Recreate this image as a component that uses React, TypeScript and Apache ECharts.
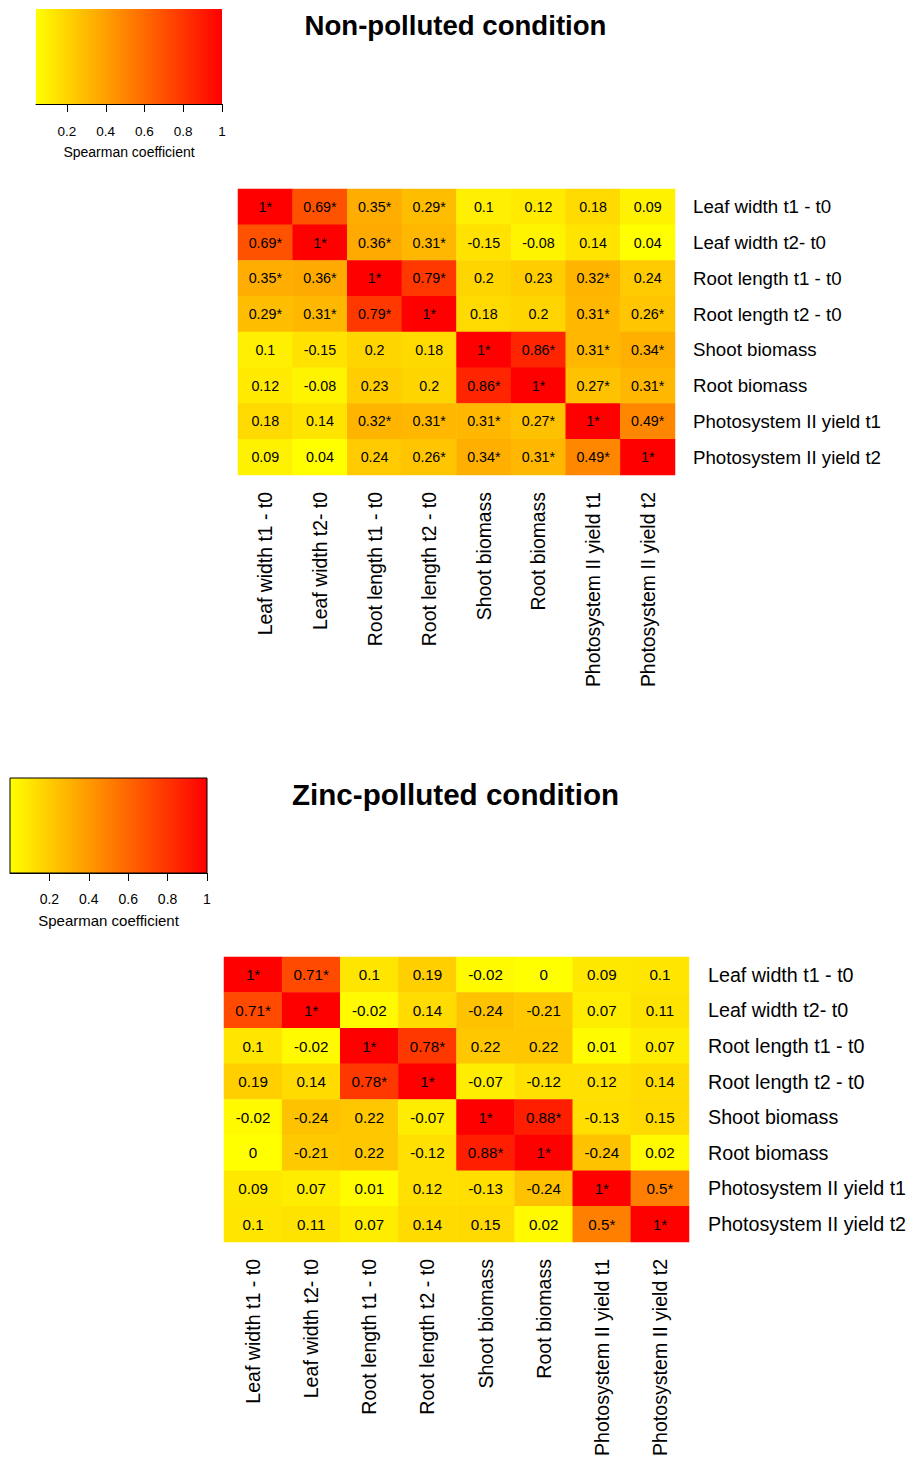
import React, { useEffect, useRef } from "react";
import * as echarts from "echarts";

const variables = [
  "Leaf width t1 - t0",
  "Leaf width t2- t0",
  "Root length t1 - t0",
  "Root length t2 - t0",
  "Shoot biomass",
  "Root biomass",
  "Photosystem II yield t1",
  "Photosystem II yield t2",
];

const nonPollutedValues = [
  [1, 0.69, 0.35, 0.29, 0.1, 0.12, 0.18, 0.09],
  [0.69, 1, 0.36, 0.31, -0.15, -0.08, 0.14, 0.04],
  [0.35, 0.36, 1, 0.79, 0.2, 0.23, 0.32, 0.24],
  [0.29, 0.31, 0.79, 1, 0.18, 0.2, 0.31, 0.26],
  [0.1, -0.15, 0.2, 0.18, 1, 0.86, 0.31, 0.34],
  [0.12, -0.08, 0.23, 0.2, 0.86, 1, 0.27, 0.31],
  [0.18, 0.14, 0.32, 0.31, 0.31, 0.27, 1, 0.49],
  [0.09, 0.04, 0.24, 0.26, 0.34, 0.31, 0.49, 1],
];

const nonPollutedSignificant = [
  [1, 1, 1, 1, 0, 0, 0, 0],
  [1, 1, 1, 1, 0, 0, 0, 0],
  [1, 1, 1, 1, 0, 0, 1, 0],
  [1, 1, 1, 1, 0, 0, 1, 1],
  [0, 0, 0, 0, 1, 1, 1, 1],
  [0, 0, 0, 0, 1, 1, 1, 1],
  [0, 0, 1, 1, 1, 1, 1, 1],
  [0, 0, 0, 1, 1, 1, 1, 1],
];

const zincValues = [
  [1, 0.71, 0.1, 0.19, -0.02, 0, 0.09, 0.1],
  [0.71, 1, -0.02, 0.14, -0.24, -0.21, 0.07, 0.11],
  [0.1, -0.02, 1, 0.78, 0.22, 0.22, 0.01, 0.07],
  [0.19, 0.14, 0.78, 1, -0.07, -0.12, 0.12, 0.14],
  [-0.02, -0.24, 0.22, -0.07, 1, 0.88, -0.13, 0.15],
  [0, -0.21, 0.22, -0.12, 0.88, 1, -0.24, 0.02],
  [0.09, 0.07, 0.01, 0.12, -0.13, -0.24, 1, 0.5],
  [0.1, 0.11, 0.07, 0.14, 0.15, 0.02, 0.5, 1],
];

const zincSignificant = [
  [1, 1, 0, 0, 0, 0, 0, 0],
  [1, 1, 0, 0, 0, 0, 0, 0],
  [0, 0, 1, 1, 0, 0, 0, 0],
  [0, 0, 1, 1, 0, 0, 0, 0],
  [0, 0, 0, 0, 1, 1, 0, 0],
  [0, 0, 0, 0, 1, 1, 0, 0],
  [0, 0, 0, 0, 0, 0, 1, 1],
  [0, 0, 0, 0, 0, 0, 1, 1],
];

const legendTicks = [0.2, 0.4, 0.6, 0.8, 1];
const nonPollutedScale = [0.04, 1];
const zincScale = [0, 1];

const FONT = "Liberation Sans, Arial, Helvetica, sans-serif";

function buildData(values: number[][], sig: number[][]) {
  const out: any[] = [];
  values.forEach((row, r) => {
    row.forEach((v, c) => {
      out.push([c, r, Math.abs(v), v, sig[r][c]]);
    });
  });
  return out;
}

export default function App() {
  const ref = useRef<HTMLDivElement>(null);
  useEffect(() => {
    if (!ref.current) return;
    const chart = echarts.init(ref.current, undefined, { renderer: "svg" });
    const gradient = () =>
      new echarts.graphic.LinearGradient(0, 0, 1, 0, [
        { offset: 0, color: "#FFFF00" },
        { offset: 1, color: "#FF0000" },
      ]);
    const labelFmt = (p: any) => String(p.data[3]) + (p.data[4] ? "*" : "");

    const heatGrid = (left: number, top: number, width: number, height: number) => ({
      left, top, width, height, containLabel: false,
    });

    const option: any = {
      animation: false,
      backgroundColor: "#ffffff",
      title: [
        {
          text: "Non-polluted condition",
          left: "center",
          top: 6,
          textStyle: { fontFamily: FONT, fontSize: 27.6, fontWeight: "bold", color: "#000" },
        },
        {
          text: "Zinc-polluted condition",
          left: "center",
          top: 774,
          textStyle: { fontFamily: FONT, fontSize: 29.6, fontWeight: "bold", color: "#000" },
        },
      ],
      grid: [
        heatGrid(238, 189, 437, 286),
        heatGrid(224, 957, 465, 287),
        {
          left: 36, top: 9, width: 186, height: 95, show: true,
          backgroundColor: gradient(), borderWidth: 0,
        },
        {
          left: 10, top: 778, width: 197, height: 95, show: true,
          backgroundColor: gradient(), borderColor: "#000", borderWidth: 1,
        },
      ],
      xAxis: [
        {
          type: "category", gridIndex: 0, data: variables, position: "bottom",
          axisLine: { show: false }, axisTick: { show: false }, splitLine: { show: false },
          axisLabel: { rotate: 90, margin: 17, padding: [0, 0, 8, 0], fontFamily: FONT, fontSize: 19.4, color: "#000", interval: 0 },
        },
        {
          type: "category", gridIndex: 1, data: variables, position: "bottom",
          axisLine: { show: false }, axisTick: { show: false }, splitLine: { show: false },
          axisLabel: { rotate: 90, margin: 17, padding: [0, 0, 8, 0], fontFamily: FONT, fontSize: 19.6, color: "#000", interval: 0 },
        },
        {
          type: "value", gridIndex: 2, min: nonPollutedScale[0], max: nonPollutedScale[1], position: "bottom",
          splitLine: { show: false },
          axisLine: { show: true, lineStyle: { color: "#000", width: 1 } },
          axisTick: { show: true, length: 8, customValues: legendTicks, lineStyle: { color: "#000" } },
          axisLabel: {
            customValues: legendTicks, margin: 20, fontFamily: FONT, fontSize: 13.5, color: "#000",
            formatter: (v: number) => String(Math.round(v * 10) / 10),
          },
          name: "Spearman coefficient", nameLocation: "middle", nameGap: 41,
          nameTextStyle: { fontFamily: FONT, fontSize: 14, color: "#000" },
        },
        {
          type: "value", gridIndex: 3, min: zincScale[0], max: zincScale[1], position: "bottom",
          splitLine: { show: false },
          axisLine: { show: true, lineStyle: { color: "#000", width: 1 } },
          axisTick: { show: true, length: 8, customValues: legendTicks, lineStyle: { color: "#000" } },
          axisLabel: {
            customValues: legendTicks, margin: 19, fontFamily: FONT, fontSize: 14, color: "#000",
            formatter: (v: number) => String(Math.round(v * 10) / 10),
          },
          name: "Spearman coefficient", nameLocation: "middle", nameGap: 40,
          nameTextStyle: { fontFamily: FONT, fontSize: 15, color: "#000" },
        },
      ],
      yAxis: [
        {
          type: "category", gridIndex: 0, data: variables, inverse: true, position: "right",
          axisLine: { show: false }, axisTick: { show: false }, splitLine: { show: false },
          axisLabel: { margin: 18, fontFamily: FONT, fontSize: 18.7, color: "#000", interval: 0 },
        },
        {
          type: "category", gridIndex: 1, data: variables, inverse: true, position: "right",
          axisLine: { show: false }, axisTick: { show: false }, splitLine: { show: false },
          axisLabel: { margin: 19, fontFamily: FONT, fontSize: 19.7, color: "#000", interval: 0 },
        },
        { type: "value", gridIndex: 2, show: false, min: 0, max: 1 },
        { type: "value", gridIndex: 3, show: false, min: 0, max: 1 },
      ],
      visualMap: [
        {
          type: "continuous", show: false, seriesIndex: 0, dimension: 2,
          min: nonPollutedScale[0], max: nonPollutedScale[1],
          inRange: { color: ["#FFFF00", "#FF0000"] },
        },
        {
          type: "continuous", show: false, seriesIndex: 1, dimension: 2,
          min: zincScale[0], max: zincScale[1],
          inRange: { color: ["#FFFF00", "#FF0000"] },
        },
      ],
      series: [
        {
          type: "heatmap", xAxisIndex: 0, yAxisIndex: 0,
          data: buildData(nonPollutedValues, nonPollutedSignificant),
          label: { show: true, formatter: labelFmt, fontFamily: FONT, fontSize: 14.3, color: "#000" },
          emphasis: { disabled: true },
        },
        {
          type: "heatmap", xAxisIndex: 1, yAxisIndex: 1,
          data: buildData(zincValues, zincSignificant),
          label: { show: true, formatter: labelFmt, fontFamily: FONT, fontSize: 15.2, color: "#000" },
          emphasis: { disabled: true },
        },
      ],
    };
    chart.setOption(option);
    return () => chart.dispose();
  }, []);
  return (
    <div
      ref={ref}
      style={{ position: "absolute", left: 0, top: 0, width: 911, height: 1459, background: "#fff" }}
    />
  );
}
